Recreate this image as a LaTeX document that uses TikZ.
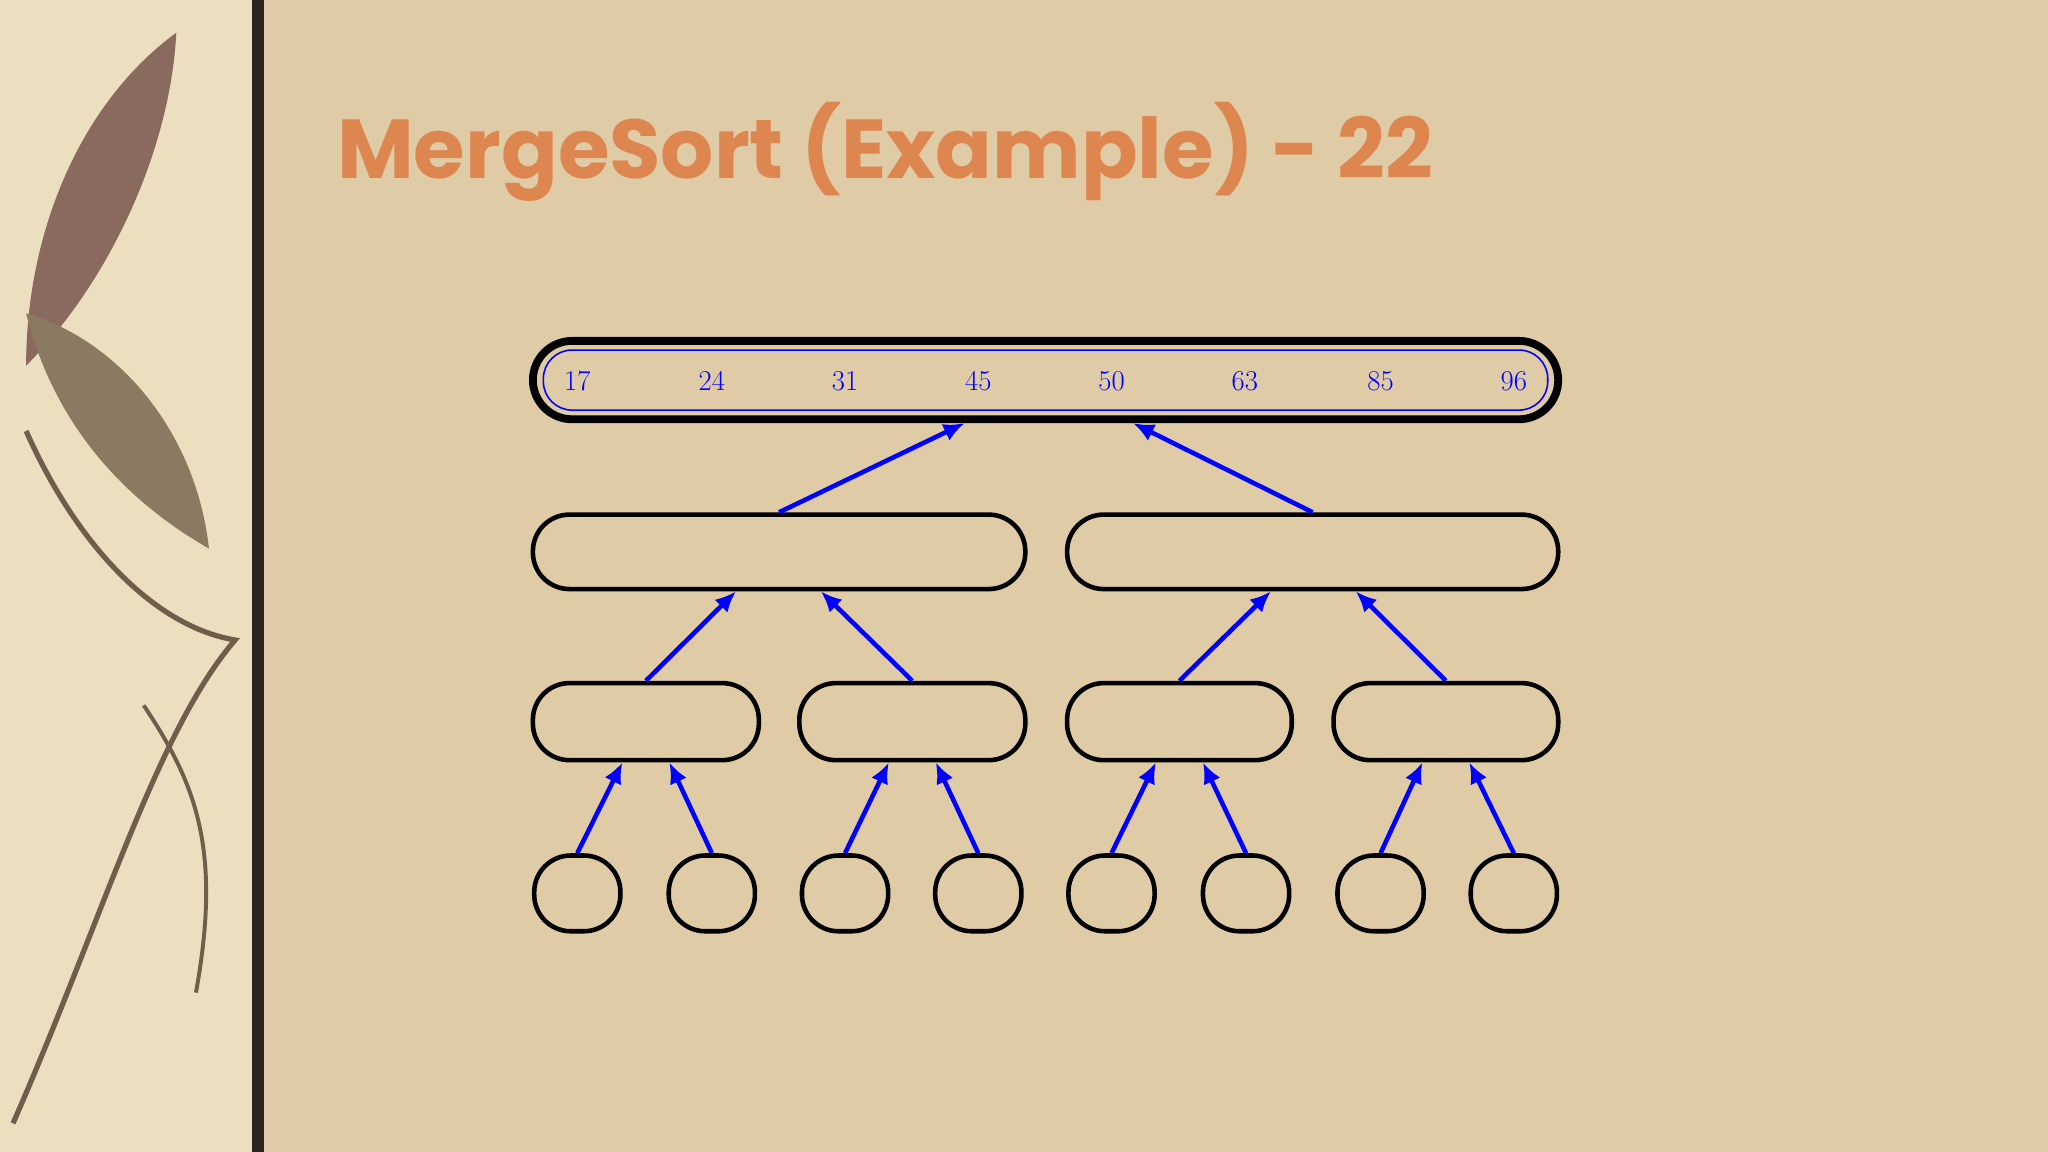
\documentclass[tikz,border=0pt]{standalone}
\usepackage{fontspec}
\newfontfamily\titlefont{Poppins}
\usetikzlibrary{arrows.meta,calc}
\definecolor{bg}{HTML}{DFCBA5}
\definecolor{panel}{HTML}{EBDFC0}
\definecolor{bar}{HTML}{2B2520}
\definecolor{ttl}{HTML}{DE8650}
\definecolor{stem}{HTML}{6E5E4A}
\definecolor{leafc}{HTML}{8A7A62}
\definecolor{leafr}{HTML}{8A6A5E}
\begin{document}
\begin{tikzpicture}[x=1pt,y=-1pt,
  bx/.style={draw=black,line width=3.5pt,rounded corners=28pt,minimum height=57pt,inner sep=0pt},
  lf/.style={draw=black,line width=3.5pt,rounded corners=28pt,minimum width=66pt,minimum height=58pt,inner sep=0pt},
  num/.style={text=blue,font=\fontsize{22}{22}\selectfont},
  arr/.style={draw=blue,line width=3.5pt,-{Latex[length=16pt,width=14pt]}}]
\useasboundingbox (0,0) rectangle (1568,882);
\fill[bg] (0,0) rectangle (1568,882);
\fill[panel] (0,0) rectangle (193,882);
\fill[bar] (193,0) rectangle (202,882);
% leaf decoration
\draw[stem,line width=4pt] (20,330) .. controls (60,420) and (120,480) .. (180,490) .. controls (120,560) and (80,700) .. (10,860);
\draw[stem,line width=3pt] (110,540) .. controls (150,600) and (170,650) .. (150,760);
\fill[leafr] (135,25) .. controls (60,80) and (20,180) .. (20,280) .. controls (80,220) and (130,120) .. (135,25);
\fill[leafc] (20,240) .. controls (90,260) and (150,330) .. (160,420) .. controls (90,380) and (40,320) .. (20,240);
% title
\node[anchor=base west,inner sep=0pt,text=ttl,font=\titlefont\bfseries\fontsize{64}{64}\selectfont] (t) at (258,137) {MergeSort (Example) - 22};
% top
\node[draw=black,line width=6pt,rounded corners=30pt,minimum width=785pt,minimum height=60pt,inner sep=0pt] (top) at (800.5,291) {};
\draw[blue,line width=1.2pt,rounded corners=22pt] (416,268) rectangle (1185,314);
\foreach \x/\v in {442/17,545/24,647/31,749/45,851/50,953/63,1057/85,1159/96}
  \node[num] (n\v) at (\x,292) {\v};
% level 2
\node[bx,minimum width=377pt] (a1) at (596.5,422.5) {};
\node[bx,minimum width=376pt] (a2) at (1005,422.5) {};
% level 3
\node[bx,minimum width=173pt,minimum height=59pt] (b1) at (494.5,552.5) {};
\node[bx,minimum width=173pt,minimum height=59pt] (b2) at (698.5,552.5) {};
\node[bx,minimum width=172pt,minimum height=59pt] (b3) at (903,552.5) {};
\node[bx,minimum width=172pt,minimum height=59pt] (b4) at (1107,552.5) {};
% leaves
\foreach \i/\x in {1/442,2/545,3/647,4/749,5/851,6/954,7/1057,8/1159}
  \node[lf] (c\i) at (\x,684) {};
% arrows
\draw[arr] (a1.north) -- ($(top.south)+(-62,0)$);
\draw[arr] (a2.north) -- ($(top.south)+(67,0)$);
\draw[arr] (b1.north) -- ($(a1.south)+(-33,0)$);
\draw[arr] (b2.north) -- ($(a1.south)+(32,0)$);
\draw[arr] (b3.north) -- ($(a2.south)+(-32,0)$);
\draw[arr] (b4.north) -- ($(a2.south)+(33,0)$);
\foreach \i/\p in {1/1,3/2,5/3,7/4}{
  \draw[arr] (c\i.north) -- ($(b\p.south)+(-18,0)$);
}
\foreach \i/\p in {2/1,4/2,6/3,8/4}{
  \draw[arr] (c\i.north) -- ($(b\p.south)+(18,0)$);
}
\end{tikzpicture}
\end{document}
